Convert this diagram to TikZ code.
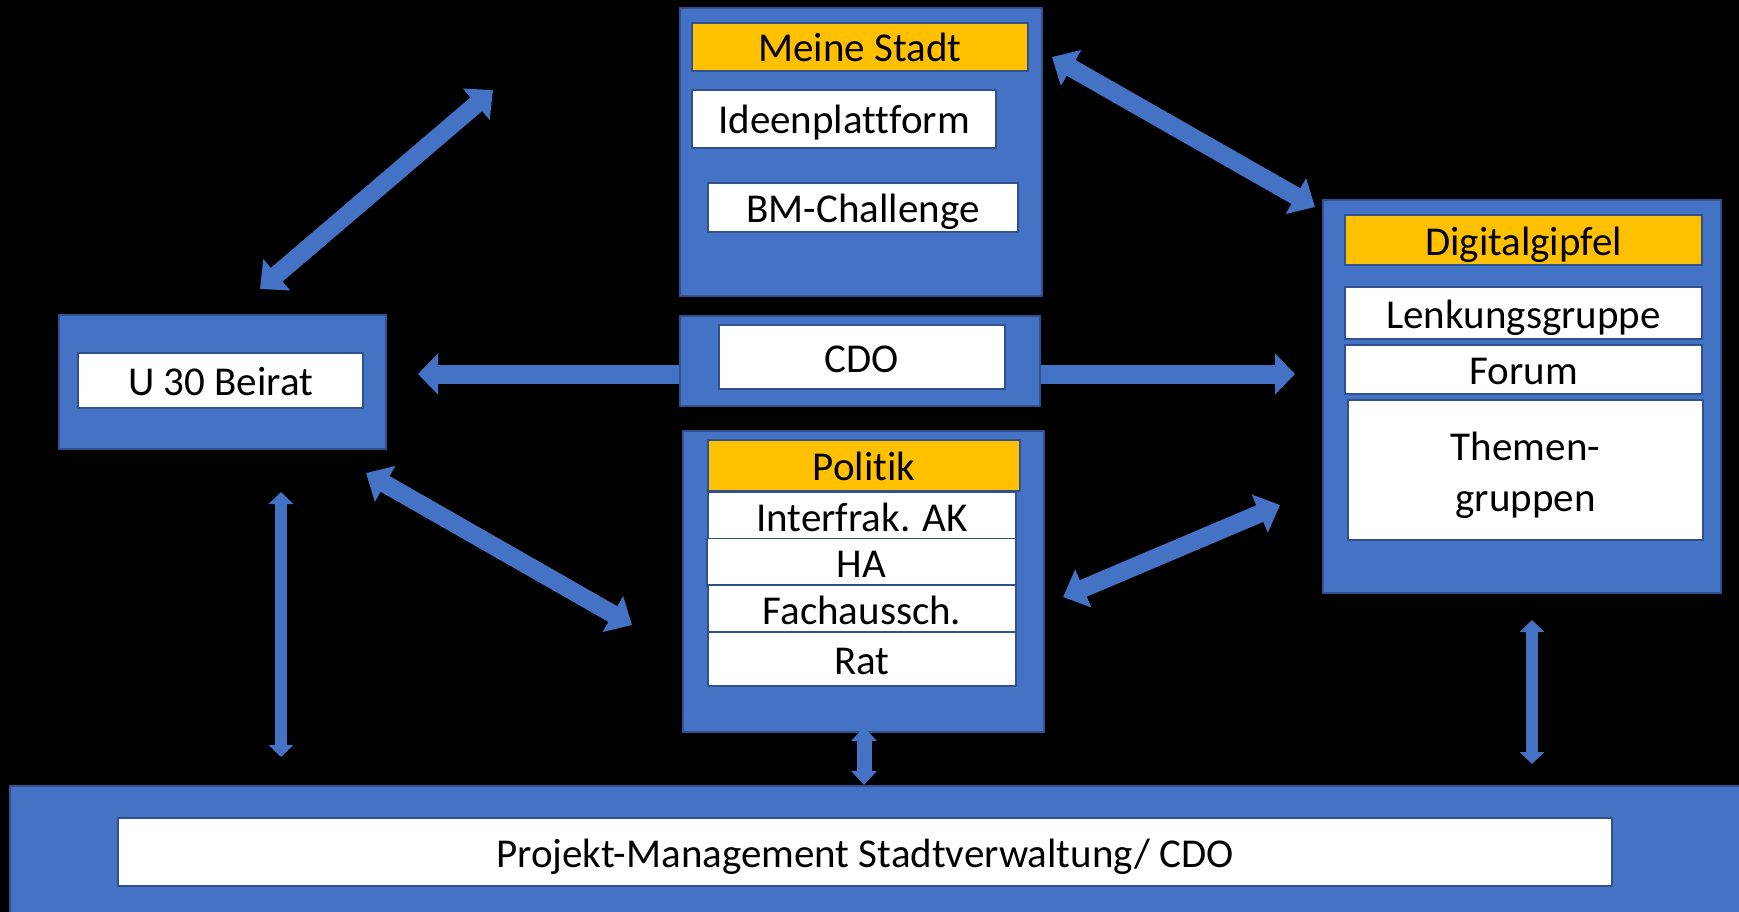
\documentclass[tikz,border=0pt]{standalone}
\usepackage{fontspec}
\setmainfont{Carlito}[Ligatures=NoCommon]
\usetikzlibrary{arrows.meta,calc}
\definecolor{boxblue}{HTML}{4472C4}
\definecolor{edgeblue}{HTML}{2F528F}
\definecolor{gold}{HTML}{FFC000}
\begin{document}
\begin{tikzpicture}[x=1pt,y=-1pt,
  outer/.style={draw=edgeblue,fill=boxblue,line width=1.5pt,inner sep=0pt},
  plainbox/.style={draw=edgeblue,fill=white,line width=1.5pt,inner sep=0pt,align=center,
    font=\fontsize{41}{51}\selectfont},
  inbox/.style={plainbox,text height=39pt,text depth=9pt},
  headbox/.style={inbox,fill=gold},
  wide/.style={draw=boxblue,line width=18pt,
    arrows={Triangle[width=40pt,length=22pt]-Triangle[width=40pt,length=22pt]}},
  wideone/.style={draw=boxblue,line width=19pt,
    arrows={-Triangle[width=40pt,length=20pt]}},
  thin/.style={draw=boxblue,line width=12pt,
    arrows={Triangle[width=24pt,length=12pt]-Triangle[width=24pt,length=12pt]}},
  mid/.style={draw=boxblue,line width=15pt,
    arrows={Triangle[width=25pt,length=14pt]-Triangle[width=25pt,length=14pt]}}
]
\fill[black] (0,0) rectangle (1739,912);
\useasboundingbox (0,0) rectangle (1739,912);

% Meine Stadt
\node[outer,minimum width=362pt,minimum height=288pt] (mso) at (861,152) {};
\node[headbox,minimum width=336pt,minimum height=40pt] (ms) at (860,47) {Meine Stadt};
\node[inbox,minimum width=304pt,minimum height=58pt] (idee) at (844,119) {Ideenplattform};
\node[inbox,minimum width=310pt,minimum height=49pt] (bm) at (863,207.5) {BM-Challenge};

% CDO
\node[outer,minimum width=360pt,minimum height=90pt] (cdoo) at (860,361) {};
\node[inbox,minimum width=286pt,minimum height=64pt] (cdo) at (862,357) {CDO};

% U 30 Beirat
\node[outer,minimum width=327pt,minimum height=134pt] (u30o) at (222.5,382) {};
\node[inbox,minimum width=285pt,minimum height=55pt] (u30) at (220.5,380.5) {U 30 Beirat};

% Politik
\node[outer,minimum width=361pt,minimum height=301pt] (polo) at (863.5,581.5) {};
\node[headbox,minimum width=312pt,minimum height=51pt] (pol) at (864,465.5) {Politik};
\node[inbox,minimum width=308pt,minimum height=45pt] (ak) at (862,516.5) {Interfrak. AK};
\node[inbox,minimum width=309pt,minimum height=47pt] (ha) at (861.5,562.5) {HA};
\node[inbox,minimum width=308pt,minimum height=46pt] (fa) at (862,609) {Fachaussch.};
\node[inbox,minimum width=308pt,minimum height=54pt] (rat) at (862,659) {Rat};

% Digitalgipfel
\node[outer,minimum width=398pt,minimum height=393pt] (dgo) at (1522,396.5) {};
\node[headbox,minimum width=357pt,minimum height=50pt] (dg) at (1523.5,240) {Digitalgipfel};
\node[inbox,minimum width=357pt,minimum height=52pt] (lenk) at (1523.5,313) {Lenkungsgruppe};
\node[inbox,minimum width=357pt,minimum height=49pt] (forum) at (1523.5,369.5) {Forum};
\node[plainbox,minimum width=355pt,minimum height=140pt] (themen) at (1525.5,470) {\rule{0pt}{39pt}Themen-\\gruppen};

% Projekt-Management
\node[outer,minimum width=1735pt,minimum height=134pt] (pmo) at (877.5,853) {};
\node[inbox,minimum width=1494pt,minimum height=68pt] (pm) at (865,852) {Projekt-Management Stadtverwaltung/ CDO};

% connector ends
\coordinate (a1s) at (260,289);
\coordinate (a1e) at (493,90);
\coordinate (a2s) at (1052,57);
\coordinate (a2e) at (1315,207);
\coordinate (a3e) at (418,374);
\coordinate (a4e) at (1295,374);
\coordinate (a5s) at (366,473);
\coordinate (a5e) at (632,625);
\coordinate (a6s) at (1063,597);
\coordinate (a6e) at (1280,505);
\coordinate (v1s) at (281,492);
\coordinate (v1e) at (281,757);
\coordinate (v2s) at (864,727);
\coordinate (v2e) at (864,785);
\coordinate (v3s) at (1532,620);
\coordinate (v3e) at (1532,764);

\draw[wide] (a1s) -- (a1e);
\draw[wide] (a2s) -- (a2e);
\draw[wideone] (cdoo.west |- a3e) -- (a3e);
\draw[wideone] (cdoo.east |- a4e) -- (a4e);
\draw[wide] (a5s) -- (a5e);
\draw[wide] (a6s) -- (a6e);
\draw[thin] (v1s) -- (v1e);
\draw[mid] (v2s) -- (v2e);
\draw[thin] (v3s) -- (v3e);
\end{tikzpicture}
\end{document}
